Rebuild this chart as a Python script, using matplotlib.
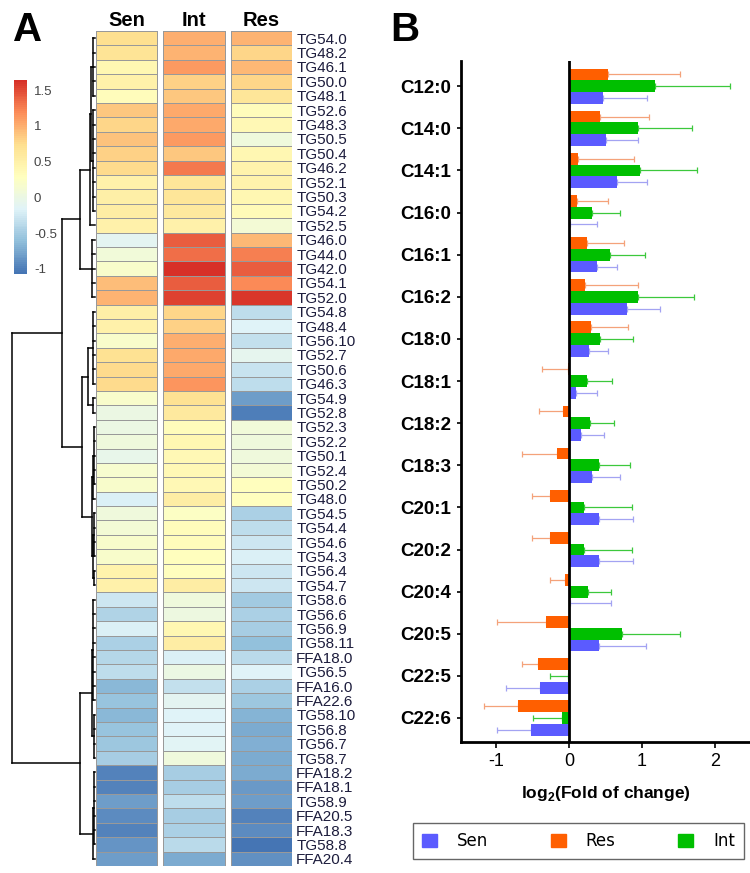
import matplotlib
matplotlib.use('Agg')
import matplotlib.pyplot as plt
import numpy as np
from matplotlib.colors import LinearSegmentedColormap
from matplotlib.cm import ScalarMappable
from matplotlib.patches import Patch

plt.rcParams['font.family'] = ['Liberation Sans', 'DejaVu Sans']
plt.rcParams['mathtext.fontset'] = 'custom'
plt.rcParams['mathtext.rm'] = 'Liberation Sans:bold'
plt.rcParams['mathtext.bf'] = 'Liberation Sans:bold'

# ---- panel A: heatmap data ----
groups = ['Sen', 'Int', 'Res']
lipids = ['TG54.0', 'TG48.2', 'TG46.1', 'TG50.0', 'TG48.1', 'TG52.6', 'TG48.3', 'TG50.5',
          'TG50.4', 'TG46.2', 'TG52.1', 'TG50.3', 'TG54.2', 'TG52.5', 'TG46.0', 'TG44.0',
          'TG42.0', 'TG54.1', 'TG52.0', 'TG54.8', 'TG48.4', 'TG56.10', 'TG52.7', 'TG50.6',
          'TG46.3', 'TG54.9', 'TG52.8', 'TG52.3', 'TG52.2', 'TG50.1', 'TG52.4', 'TG50.2',
          'TG48.0', 'TG54.5', 'TG54.4', 'TG54.6', 'TG54.3', 'TG56.4', 'TG54.7', 'TG58.6',
          'TG56.6', 'TG56.9', 'TG58.11', 'FFA18.0', 'TG56.5', 'FFA16.0', 'FFA22.6', 'TG58.10',
          'TG56.8', 'TG56.7', 'TG58.7', 'FFA18.2', 'FFA18.1', 'TG58.9', 'FFA20.5', 'FFA18.3',
          'TG58.8', 'FFA20.4']
sen = [0.72, 0.67, 0.42, 0.50, 0.32, 0.88, 0.78, 0.90, 0.80, 0.76, 0.50, 0.52, 0.55, 0.50,
       -0.12, 0.08, 0.20, 0.92, 0.97, 0.52, 0.48, 0.20, 0.70, 0.75, 0.75, 0.20, 0.00, 0.00,
       0.05, -0.05, 0.15, 0.20, -0.20, 0.05, 0.12, 0.18, 0.20, 0.47, 0.48, -0.27, -0.42, -0.18,
       -0.46, -0.40, -0.35, -0.65, -0.57, -0.66, -0.57, -0.53, -0.50, -0.98, -0.98, -0.82, -0.93,
       -0.97, -0.86, -0.82]
intm = [1.00, 0.98, 1.12, 0.82, 0.87, 1.02, 1.02, 1.10, 0.88, 1.28, 0.65, 0.66, 0.60, 0.50,
        1.40, 1.33, 1.64, 1.42, 1.55, 0.78, 0.80, 1.00, 1.03, 1.02, 1.13, 0.70, 0.60, 0.32,
        0.42, 0.38, 0.38, 0.38, 0.55, 0.25, 0.33, 0.33, 0.30, 0.30, 0.55, 0.05, 0.04, 0.40,
        0.55, -0.20, 0.00, -0.33, -0.10, -0.15, -0.15, -0.14, 0.05, -0.48, -0.50, -0.35, -0.50,
        -0.47, -0.37, -0.73]
res = [0.98, 0.78, 0.95, 0.78, 0.65, 0.32, 0.38, 0.05, 0.42, 0.45, 0.45, 0.42, 0.36, 0.10,
       0.95, 1.24, 1.40, 1.18, 1.60, -0.35, -0.15, -0.33, -0.08, -0.30, -0.35, -0.80, -1.00,
       0.08, 0.06, 0.05, 0.12, 0.30, 0.30, -0.45, -0.35, -0.28, -0.20, -0.27, -0.28, -0.52,
       -0.46, -0.48, -0.60, -0.38, -0.15, -0.47, -0.55, -0.67, -0.72, -0.70, -0.73, -0.74,
       -0.84, -0.82, -0.98, -0.92, -1.07, -0.90]
scale_min, scale_max = -1.07, 1.64
scale_ticks = [-1, -0.5, 0, 0.5, 1, 1.5]
scale_labels = ['-1', '-0.5', '0', '0.5', '1', '1.5']
palette = ['#4575B4', '#91BFDB', '#E0F3F8', '#FFFFBF', '#FEE090', '#FC8D59', '#D73027']

# row dendrogram: node = [height, child, child, ...], ints are row indices
g1 = [0.065, [0.05, [0.03, 0, 1, 2, 3, 4], [0.02, 5, 6, 7, 8, 9, 10, 11, 12]], 13]
g2 = [0.04, 14, 15, 16, 17, 18]
g3 = [0.025, 19, 20, 21, 22, 23, 24]
g4 = [0.02, 25, 26]
g5 = [0.025, [0.015, 27, 28, 29, 30, 31], 32]
g6 = [0.02, [0.01, 33, 34, 35, 36], [0.01, 37, 38]]
g7 = [0.02, 39, 40, 41, 42, 43, 44, 45, 46]
g8 = [0.015, 47, 48, 49, 50]
g9 = [0.024, [0.015, 51, 52, 53, 54, 55, 56], 57]
row_tree = [1.0,
            [0.40, [0.18, g1, g2], [0.157, [0.084, g3, g4], [0.036, g5, g6]]],
            [0.18, [0.036, g7, g8], g9]]

# ---- panel B: bar data ----
acids = ['C12:0', 'C14:0', 'C14:1', 'C16:0', 'C16:1', 'C16:2', 'C18:0', 'C18:1',
         'C18:2', 'C18:3', 'C20:1', 'C20:2', 'C20:4', 'C20:5', 'C22:5', 'C22:6']
res_fc = [0.53, 0.42, 0.13, 0.11, 0.25, 0.22, 0.30, -0.02, -0.08, -0.17, -0.26, -0.26,
          -0.05, -0.32, -0.42, -0.70]
res_sd = [0.99, 0.68, 0.76, 0.43, 0.50, 0.73, 0.51, 0.35, 0.33, 0.47, 0.25, 0.25,
          0.21, 0.66, 0.22, 0.47]
int_fc = [1.18, 0.94, 0.97, 0.31, 0.56, 0.95, 0.42, 0.25, 0.29, 0.41, 0.20, 0.20,
          0.26, 0.73, -0.01, -0.09]
int_sd = [1.03, 0.75, 0.78, 0.39, 0.48, 0.76, 0.46, 0.34, 0.33, 0.42, 0.66, 0.66,
          0.32, 0.79, 0.25, 0.41]
sen_fc = [0.46, 0.51, 0.66, 0.02, 0.39, 0.80, 0.27, 0.10, 0.16, 0.32, 0.41, 0.41,
          0.01, 0.41, -0.40, -0.52]
sen_sd = [0.61, 0.43, 0.41, 0.36, 0.27, 0.44, 0.27, 0.28, 0.32, 0.38, 0.47, 0.47,
          0.56, 0.64, 0.46, 0.46]

W, H = 750, 873
fig = plt.figure(figsize=(W / 100, H / 100), dpi=100)


def box(x0, y0, x1, y1):
    return [x0 / W, 1 - y1 / H, (x1 - x0) / W, (y1 - y0) / H]


# heatmap
cmap = LinearSegmentedColormap.from_list('rdylbu', palette, N=100)
data = np.column_stack([sen, intm, res])
gap = 0.1
ax = fig.add_axes(box(96, 31, 292, 866))
edges = np.arange(len(lipids) + 1)
for j in range(len(groups)):
    x0 = j * (1 + gap)
    ax.pcolormesh([x0, x0 + 1], edges, data[:, j:j + 1], cmap=cmap,
                  vmin=scale_min, vmax=scale_max, edgecolors='#999999', linewidth=0.72)
ax.set_xlim(0, 3 + 2 * gap)
ax.set_ylim(len(lipids), 0)
for s in ax.spines.values():
    s.set_visible(False)
ax.set_yticks(np.arange(len(lipids)) + 0.5)
ax.set_yticklabels(lipids, fontsize=11, color='#1c1c3c')
ax.yaxis.tick_right()
ax.set_xticks([j * (1 + gap) + 0.5 for j in range(3)])
ax.set_xticklabels(groups, fontsize=14.5, fontweight='bold')
ax.xaxis.tick_top()
ax.tick_params(axis='y', length=0, pad=3)
ax.tick_params(axis='x', length=0, pad=0.5)

# dendrogram
dax = fig.add_axes(box(12, 31, 95, 866))
dax.set_xlim(1.0, 0.0)
dax.set_ylim(len(lipids), 0)
dax.axis('off')


def draw_node(node):
    if isinstance(node, int):
        return node + 0.5, 0.0
    h = node[0]
    pts = [draw_node(c) for c in node[1:]]
    for y, ch in pts:
        dax.plot([ch, h], [y, y], color='black', lw=1.1, clip_on=False)
    dax.plot([h, h], [pts[0][0], pts[-1][0]], color='black', lw=1.1, clip_on=False)
    return (pts[0][0] + pts[-1][0]) / 2, h


draw_node(row_tree)

# color scale
cax = fig.add_axes(box(14, 80, 27, 274))
sm = ScalarMappable(cmap=cmap, norm=plt.Normalize(scale_min, scale_max))
cb = fig.colorbar(sm, cax=cax)
cb.outline.set_visible(False)
cb.set_ticks(scale_ticks)
cb.set_ticklabels(scale_labels)
cax.tick_params(length=0, pad=5, labelsize=9.5, colors='#444444')

# bar chart
bx = fig.add_axes(box(461, 61, 750, 742))
y = np.arange(len(acids))
bh = 0.28
series = [(res_fc, res_sd, -bh, '#FF5F00', '#F4A27A'),
          (int_fc, int_sd, 0.0, '#00BF00', '#3CC83C'),
          (sen_fc, sen_sd, bh, '#5B5BFF', '#A3A3F2')]
for vals, sds, off, col, ecol in series:
    vals = np.array(vals)
    sds = np.array(sds)
    lo = np.where(vals < 0, sds, 0)
    hi = np.where(vals >= 0, sds, 0)
    bx.barh(y + off, vals, height=bh, color=col, zorder=2)
    bx.errorbar(vals, y + off, xerr=[lo, hi], fmt='none', ecolor=ecol,
                elinewidth=0.9, capsize=2.2, capthick=0.9, zorder=1)
bx.axvline(0, color='black', lw=2, zorder=3)
bx.set_xlim(-1.48, 2.48)
bx.set_ylim(15.57, -0.6)
bx.set_yticks(y)
bx.set_yticklabels(acids, fontsize=13.5, fontweight='bold')
bx.set_xticks([-1, 0, 1, 2])
bx.set_xticklabels(['-1', '0', '1', '2'], fontsize=13)
bx.spines['top'].set_visible(False)
bx.spines['right'].set_visible(False)
bx.spines['left'].set_linewidth(2)
bx.spines['bottom'].set_linewidth(2)
bx.tick_params(axis='y', length=3, width=1.2, pad=4)
bx.tick_params(axis='x', length=4, width=1.2, pad=4)
bx.set_xlabel('log$_{2}$(Fold of change)', fontsize=12.5, fontweight='bold', labelpad=10)

handles = [Patch(color='#5B5BFF'), Patch(color='#FF5F00'), Patch(color='#00BF00')]
fig.legend(handles, ['Sen', 'Res', 'Int'], loc='upper left',
           bbox_to_anchor=box(413, 823, 744, 861), mode='expand', ncol=3,
           fancybox=False, edgecolor='#666666', framealpha=1, borderaxespad=0,
           borderpad=0.55, handlelength=0.9, handleheight=0.9, handletextpad=1.2,
           prop={'family': 'DejaVu Sans', 'size': 12})

fig.text(13 / W, 1 - 41 / H, 'A', fontsize=29, fontweight='bold', va='baseline')
fig.text(390 / W, 1 - 41 / H, 'B', fontsize=29, fontweight='bold', va='baseline')

fig.savefig('out.png', dpi=100)
